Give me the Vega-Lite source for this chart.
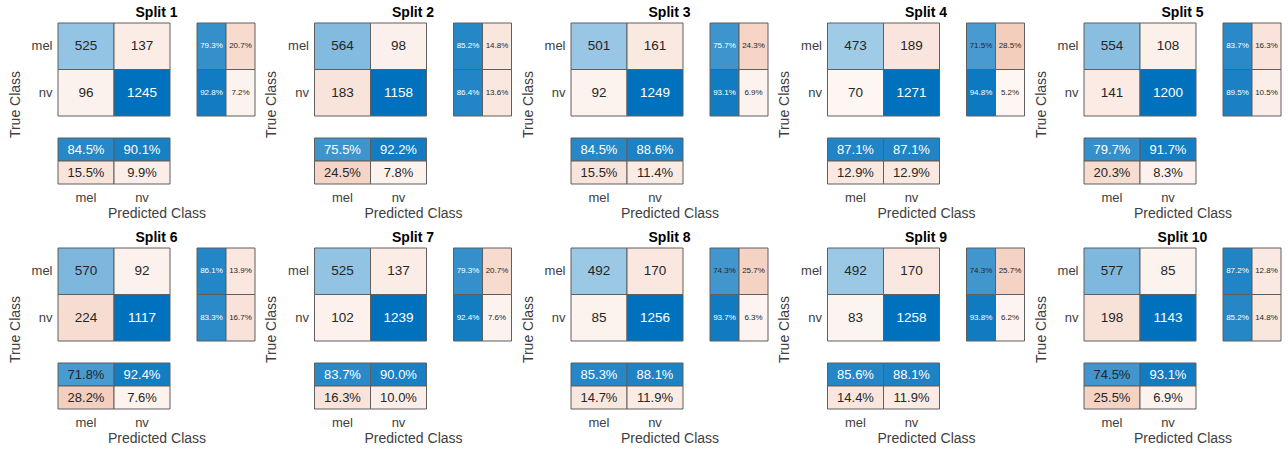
{
  "$schema": "https://vega.github.io/schema/vega-lite/v6.json",
  "background": "white",
  "autosize": {"type": "pad"},
  "padding": {"left": 8, "top": 5, "right": 0, "bottom": 0},
  "config": {
    "view": {"stroke": null},
    "font": "Liberation Sans",
    "axis": {"domain": false, "ticks": false, "grid": false, "labelColor": "#404040", "titleColor": "#404040", "titleFontWeight": "normal", "labelFont": "Liberation Sans", "titleFont": "Liberation Sans"}
  },
  "data": {"values": [
    {"n":1,"part":"m","t":"mel","p":"mel","v":525},{"n":1,"part":"m","t":"mel","p":"nv","v":137},{"n":1,"part":"m","t":"nv","p":"mel","v":96},{"n":1,"part":"m","t":"nv","p":"nv","v":1245},
    {"n":2,"part":"m","t":"mel","p":"mel","v":564},{"n":2,"part":"m","t":"mel","p":"nv","v":98},{"n":2,"part":"m","t":"nv","p":"mel","v":183},{"n":2,"part":"m","t":"nv","p":"nv","v":1158},
    {"n":3,"part":"m","t":"mel","p":"mel","v":501},{"n":3,"part":"m","t":"mel","p":"nv","v":161},{"n":3,"part":"m","t":"nv","p":"mel","v":92},{"n":3,"part":"m","t":"nv","p":"nv","v":1249},
    {"n":4,"part":"m","t":"mel","p":"mel","v":473},{"n":4,"part":"m","t":"mel","p":"nv","v":189},{"n":4,"part":"m","t":"nv","p":"mel","v":70},{"n":4,"part":"m","t":"nv","p":"nv","v":1271},
    {"n":5,"part":"m","t":"mel","p":"mel","v":554},{"n":5,"part":"m","t":"mel","p":"nv","v":108},{"n":5,"part":"m","t":"nv","p":"mel","v":141},{"n":5,"part":"m","t":"nv","p":"nv","v":1200},
    {"n":6,"part":"m","t":"mel","p":"mel","v":570},{"n":6,"part":"m","t":"mel","p":"nv","v":92},{"n":6,"part":"m","t":"nv","p":"mel","v":224},{"n":6,"part":"m","t":"nv","p":"nv","v":1117},
    {"n":7,"part":"m","t":"mel","p":"mel","v":525},{"n":7,"part":"m","t":"mel","p":"nv","v":137},{"n":7,"part":"m","t":"nv","p":"mel","v":102},{"n":7,"part":"m","t":"nv","p":"nv","v":1239},
    {"n":8,"part":"m","t":"mel","p":"mel","v":492},{"n":8,"part":"m","t":"mel","p":"nv","v":170},{"n":8,"part":"m","t":"nv","p":"mel","v":85},{"n":8,"part":"m","t":"nv","p":"nv","v":1256},
    {"n":9,"part":"m","t":"mel","p":"mel","v":492},{"n":9,"part":"m","t":"mel","p":"nv","v":170},{"n":9,"part":"m","t":"nv","p":"mel","v":83},{"n":9,"part":"m","t":"nv","p":"nv","v":1258},
    {"n":10,"part":"m","t":"mel","p":"mel","v":577},{"n":10,"part":"m","t":"mel","p":"nv","v":85},{"n":10,"part":"m","t":"nv","p":"mel","v":198},{"n":10,"part":"m","t":"nv","p":"nv","v":1143},

    {"n":1,"part":"r","t":"mel","k":"ok","v":0.793},{"n":1,"part":"r","t":"mel","k":"bad","v":0.207},{"n":1,"part":"r","t":"nv","k":"ok","v":0.928},{"n":1,"part":"r","t":"nv","k":"bad","v":0.072},
    {"n":2,"part":"r","t":"mel","k":"ok","v":0.852},{"n":2,"part":"r","t":"mel","k":"bad","v":0.148},{"n":2,"part":"r","t":"nv","k":"ok","v":0.864},{"n":2,"part":"r","t":"nv","k":"bad","v":0.136},
    {"n":3,"part":"r","t":"mel","k":"ok","v":0.757},{"n":3,"part":"r","t":"mel","k":"bad","v":0.243},{"n":3,"part":"r","t":"nv","k":"ok","v":0.931},{"n":3,"part":"r","t":"nv","k":"bad","v":0.069},
    {"n":4,"part":"r","t":"mel","k":"ok","v":0.715},{"n":4,"part":"r","t":"mel","k":"bad","v":0.285},{"n":4,"part":"r","t":"nv","k":"ok","v":0.948},{"n":4,"part":"r","t":"nv","k":"bad","v":0.052},
    {"n":5,"part":"r","t":"mel","k":"ok","v":0.837},{"n":5,"part":"r","t":"mel","k":"bad","v":0.163},{"n":5,"part":"r","t":"nv","k":"ok","v":0.895},{"n":5,"part":"r","t":"nv","k":"bad","v":0.105},
    {"n":6,"part":"r","t":"mel","k":"ok","v":0.861},{"n":6,"part":"r","t":"mel","k":"bad","v":0.139},{"n":6,"part":"r","t":"nv","k":"ok","v":0.833},{"n":6,"part":"r","t":"nv","k":"bad","v":0.167},
    {"n":7,"part":"r","t":"mel","k":"ok","v":0.793},{"n":7,"part":"r","t":"mel","k":"bad","v":0.207},{"n":7,"part":"r","t":"nv","k":"ok","v":0.924},{"n":7,"part":"r","t":"nv","k":"bad","v":0.076},
    {"n":8,"part":"r","t":"mel","k":"ok","v":0.743},{"n":8,"part":"r","t":"mel","k":"bad","v":0.257},{"n":8,"part":"r","t":"nv","k":"ok","v":0.937},{"n":8,"part":"r","t":"nv","k":"bad","v":0.063},
    {"n":9,"part":"r","t":"mel","k":"ok","v":0.743},{"n":9,"part":"r","t":"mel","k":"bad","v":0.257},{"n":9,"part":"r","t":"nv","k":"ok","v":0.938},{"n":9,"part":"r","t":"nv","k":"bad","v":0.062},
    {"n":10,"part":"r","t":"mel","k":"ok","v":0.872},{"n":10,"part":"r","t":"mel","k":"bad","v":0.128},{"n":10,"part":"r","t":"nv","k":"ok","v":0.852},{"n":10,"part":"r","t":"nv","k":"bad","v":0.148},

    {"n":1,"part":"c","p":"mel","k":"ok","v":0.845},{"n":1,"part":"c","p":"mel","k":"bad","v":0.155},{"n":1,"part":"c","p":"nv","k":"ok","v":0.901},{"n":1,"part":"c","p":"nv","k":"bad","v":0.099},
    {"n":2,"part":"c","p":"mel","k":"ok","v":0.755},{"n":2,"part":"c","p":"mel","k":"bad","v":0.245},{"n":2,"part":"c","p":"nv","k":"ok","v":0.922},{"n":2,"part":"c","p":"nv","k":"bad","v":0.078},
    {"n":3,"part":"c","p":"mel","k":"ok","v":0.845},{"n":3,"part":"c","p":"mel","k":"bad","v":0.155},{"n":3,"part":"c","p":"nv","k":"ok","v":0.886},{"n":3,"part":"c","p":"nv","k":"bad","v":0.114},
    {"n":4,"part":"c","p":"mel","k":"ok","v":0.871},{"n":4,"part":"c","p":"mel","k":"bad","v":0.129},{"n":4,"part":"c","p":"nv","k":"ok","v":0.871},{"n":4,"part":"c","p":"nv","k":"bad","v":0.129},
    {"n":5,"part":"c","p":"mel","k":"ok","v":0.797},{"n":5,"part":"c","p":"mel","k":"bad","v":0.203},{"n":5,"part":"c","p":"nv","k":"ok","v":0.917},{"n":5,"part":"c","p":"nv","k":"bad","v":0.083},
    {"n":6,"part":"c","p":"mel","k":"ok","v":0.718},{"n":6,"part":"c","p":"mel","k":"bad","v":0.282},{"n":6,"part":"c","p":"nv","k":"ok","v":0.924},{"n":6,"part":"c","p":"nv","k":"bad","v":0.076},
    {"n":7,"part":"c","p":"mel","k":"ok","v":0.837},{"n":7,"part":"c","p":"mel","k":"bad","v":0.163},{"n":7,"part":"c","p":"nv","k":"ok","v":0.900},{"n":7,"part":"c","p":"nv","k":"bad","v":0.100},
    {"n":8,"part":"c","p":"mel","k":"ok","v":0.853},{"n":8,"part":"c","p":"mel","k":"bad","v":0.147},{"n":8,"part":"c","p":"nv","k":"ok","v":0.881},{"n":8,"part":"c","p":"nv","k":"bad","v":0.119},
    {"n":9,"part":"c","p":"mel","k":"ok","v":0.856},{"n":9,"part":"c","p":"mel","k":"bad","v":0.144},{"n":9,"part":"c","p":"nv","k":"ok","v":0.881},{"n":9,"part":"c","p":"nv","k":"bad","v":0.119},
    {"n":10,"part":"c","p":"mel","k":"ok","v":0.745},{"n":10,"part":"c","p":"mel","k":"bad","v":0.255},{"n":10,"part":"c","p":"nv","k":"ok","v":0.931},{"n":10,"part":"c","p":"nv","k":"bad","v":0.069}
  ]},
  "facet": {
    "field": "n", "type": "ordinal",
    "header": {"title": null, "labelExpr": "'Split ' + datum.value", "labelFontSize": 14, "labelFontWeight": "bold", "labelColor": "#000000", "labelFont": "Liberation Sans", "labelPadding": 3}
  },
  "columns": 5,
  "spacing": {"row": 10, "column": 8.5},
  "resolve": {"scale": {"x": "independent", "y": "independent"}, "axis": {"x": "independent", "y": "independent"}},
  "spec": {
    "width": 197,
    "height": 161,
    "layer": [
      {
        "transform": [
          {"filter": "datum.part == 'm'"},
          {"joinaggregate": [{"op": "max", "field": "v", "as": "mx"}], "groupby": ["n"]},
          {"calculate": "(datum.t == datum.p ? 1 : -1) * datum.v / datum.mx", "as": "s"}
        ],
        "encoding": {
          "x": {"field": "p", "type": "nominal", "scale": {"domain": ["mel", "nv"], "range": [0, 112], "paddingInner": 0, "paddingOuter": 0}, "axis": null},
          "y": {"field": "t", "type": "nominal", "scale": {"domain": ["mel", "nv"], "range": [0, 93], "paddingInner": 0, "paddingOuter": 0},
                "axis": {"orient": "left", "title": "True Class", "labelFontSize": 13, "labelPadding": 6, "labelAngle": 0, "titleFontSize": 14, "titlePadding": 9, "titleY": 81}}
        },
        "layer": [
          {"mark": {"type": "rect", "stroke": "#5f5f5f", "strokeWidth": 1},
           "encoding": {"color": {"field": "s", "type": "quantitative", "scale": {"domain": [-1, 0, 1], "range": ["#d95319", "#ffffff", "#0072bd"], "interpolate": "rgb"}, "legend": null}}},
          {"mark": {"type": "text", "fontSize": 13.5, "font": "Liberation Sans"},
           "encoding": {"text": {"field": "v", "type": "quantitative"},
                        "color": {"condition": {"test": "datum.s > 0.75", "value": "#ffffff"}, "value": "#262626"}}}
        ]
      },
      {
        "transform": [
          {"filter": "datum.part == 'r'"},
          {"calculate": "(datum.k == 'ok' ? 1 : -1) * datum.v", "as": "s"}
        ],
        "encoding": {
          "x": {"field": "k", "type": "nominal", "scale": {"domain": ["ok", "bad"], "range": [139, 197], "paddingInner": 0, "paddingOuter": 0}, "axis": null},
          "y": {"field": "t", "type": "nominal", "scale": {"domain": ["mel", "nv"], "range": [0, 93], "paddingInner": 0, "paddingOuter": 0}, "axis": null}
        },
        "layer": [
          {"mark": {"type": "rect", "stroke": "#5f5f5f", "strokeWidth": 1},
           "encoding": {"color": {"field": "s", "type": "quantitative", "scale": {"domain": [-1, 0, 1], "range": ["#d95319", "#ffffff", "#0072bd"], "interpolate": "rgb"}, "legend": null}}},
          {"mark": {"type": "text", "fontSize": 8, "font": "Liberation Sans"},
           "encoding": {"text": {"field": "v", "type": "quantitative", "format": ".1%"},
                        "color": {"condition": {"test": "datum.s > 0.75", "value": "#ffffff"}, "value": "#262626"}}}
        ]
      },
      {
        "transform": [
          {"filter": "datum.part == 'c'"},
          {"calculate": "(datum.k == 'ok' ? 1 : -1) * datum.v", "as": "s"}
        ],
        "encoding": {
          "x": {"field": "p", "type": "nominal", "scale": {"domain": ["mel", "nv"], "range": [0, 112], "paddingInner": 0, "paddingOuter": 0},
                "axis": {"orient": "bottom", "title": "Predicted Class", "labelFontSize": 13, "labelPadding": 7, "labelAngle": 0, "titleFontSize": 14, "titlePadding": 2, "titleX": 98.5}},
          "y": {"field": "k", "type": "nominal", "scale": {"domain": ["ok", "bad"], "range": [115, 161], "paddingInner": 0, "paddingOuter": 0}, "axis": null}
        },
        "layer": [
          {"mark": {"type": "rect", "stroke": "#5f5f5f", "strokeWidth": 1},
           "encoding": {"color": {"field": "s", "type": "quantitative", "scale": {"domain": [-1, 0, 1], "range": ["#d95319", "#ffffff", "#0072bd"], "interpolate": "rgb"}, "legend": null}}},
          {"mark": {"type": "text", "fontSize": 13, "font": "Liberation Sans"},
           "encoding": {"text": {"field": "v", "type": "quantitative", "format": ".1%"},
                        "color": {"condition": {"test": "datum.s > 0.75", "value": "#ffffff"}, "value": "#262626"}}}
        ]
      }
    ],
    "resolve": {"scale": {"x": "independent", "y": "independent"}}
  }
}
